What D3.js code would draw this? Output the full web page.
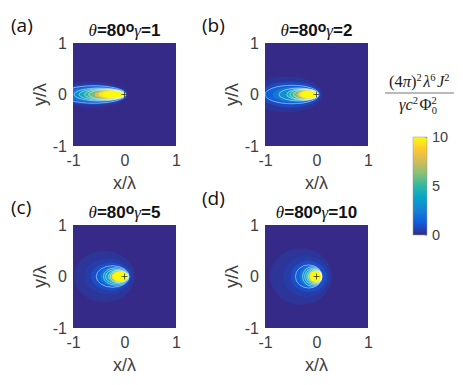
<!doctype html>
<html>
<head>
<meta charset="UTF-8">
<script src="https://d3js.org/d3.v7.min.js"></script>
<style>
  html, body { margin: 0; padding: 0; background: #fff; }
  svg { display: block; }
  .tick text, .axlabel { font-family: "Liberation Sans", sans-serif; fill: #404040; }
</style>
</head>
<body>
<svg width="463" height="385"></svg>
<script>
// contour levels per panel (data units x/lambda, y/lambda)
var levelsA = [0.3, 0.8, 1.5, 2.2, 3, 4, 5, 6, 8, 9.5, 10];
var xLeftA  = [-1.32, -1.28, -1.22, -1.12, -0.98, -0.88, -0.78, -0.7, -0.58, -0.5, -0.42];
var xRightA = [0.07, 0.05, 0.03, 0.025, 0.02, 0.015, 0.01, 0.0, 0.0, -0.01, -0.02];
var halfHA  = [0.25, 0.2, 0.17, 0.145, 0.125, 0.11, 0.1, 0.09, 0.085, 0.078, 0.07];

var levelsB = [0.3, 0.8, 1.5, 2.2, 3, 4, 5, 6, 8, 9.5, 10];
var xLeftB  = [-1.25, -1.1, -1.0, -0.85, -0.73, -0.58, -0.52, -0.45, -0.38, -0.34, -0.3];
var xRightB = [0.12, 0.08, 0.05, 0.045, 0.04, 0.035, 0.03, 0.025, 0.02, 0.015, 0.0];
var halfHB  = [0.34, 0.25, 0.18, 0.15, 0.125, 0.11, 0.1, 0.09, 0.085, 0.078, 0.07];

var levelsC = [0.25, 0.5, 0.9, 1.5, 2.2, 3, 4, 5, 6, 9.5, 10];
var xLeftC  = [-0.98, -0.78, -0.65, -0.55, -0.47, -0.41, -0.37, -0.31, -0.28, -0.25, -0.21];
var xRightC = [0.2, 0.15, 0.12, 0.09, 0.085, 0.08, 0.075, 0.07, 0.065, 0.06, 0.055];
var halfHC  = [0.5, 0.35, 0.27, 0.21, 0.19, 0.17, 0.14, 0.12, 0.11, 0.1, 0.09];

var levelsD = [0.25, 0.5, 0.9, 1.5, 2.2, 3, 4, 5, 6, 9.5, 10];
var xLeftD  = [-0.9, -0.65, -0.5, -0.41, -0.33, -0.27, -0.23, -0.19, -0.16, -0.14, -0.12];
var xRightD = [0.3, 0.25, 0.2, 0.11, 0.105, 0.1, 0.1, 0.1, 0.1, 0.1, 0.095];
var halfHD  = [0.55, 0.4, 0.3, 0.225, 0.205, 0.19, 0.16, 0.14, 0.125, 0.115, 0.105];

// which levels get a white contour line
var whiteLevels = [1.5, 3, 4, 5, 6];

var panelLetters = ["(a)", "(b)", "(c)", "(d)"];
var gammas = [1, 2, 5, 10];
var ticks = [-1, 0, 1];
var barTicks = [0, 5, 10];
var parula = ["#352a87", "#0f5cdd", "#1481d4", "#06a4ca", "#2eb7a4", "#87bf77", "#d1bb59", "#fec832", "#f9fb0e"];

var svg = d3.select("svg");
var size = 103;

var color = d3.scaleLinear()
  .domain(parula.map(function(d, i) { return i * 10 / (parula.length - 1); }))
  .range(parula);

var defs = svg.append("defs");
defs.append("filter").attr("id", "soft")
  .attr("x", "-20%").attr("y", "-20%").attr("width", "140%").attr("height", "140%")
  .append("feGaussianBlur").attr("stdDeviation", 0.6);
defs.append("filter").attr("id", "softline")
  .append("feGaussianBlur").attr("stdDeviation", 0.25);
defs.append("clipPath").attr("id", "panelclip")
  .append("rect").attr("width", size).attr("height", size);

var panels = [
  {left: 73, top: 43, lev: levelsA, xl: xLeftA, xr: xRightA, h: halfHA, lx: 11, ly: 32},
  {left: 265, top: 43, lev: levelsB, xl: xLeftB, xr: xRightB, h: halfHB, lx: 202, ly: 32},
  {left: 73, top: 225, lev: levelsC, xl: xLeftC, xr: xRightC, h: halfHC, lx: 11, ly: 214},
  {left: 265, top: 225, lev: levelsD, xl: xLeftD, xr: xRightD, h: halfHD, lx: 202, ly: 205}
];

var x = d3.scaleLinear().domain([-1, 1]).range([0, size]);
var y = d3.scaleLinear().domain([-1, 1]).range([size, 0]);
var tickFmt = function(d) { return String(d); };

panels.forEach(function(p, i) {
  var g = svg.append("g").attr("transform", "translate(" + p.left + "," + p.top + ")");

  g.append("rect").attr("width", size).attr("height", size).attr("fill", color(0));

  var rows = p.lev.map(function(v, j) {
    return {v: v, xl: p.xl[j], xr: p.xr[j], h: p.h[j]};
  });

  var clip = g.append("g").attr("clip-path", "url(#panelclip)");

  clip.append("g").attr("filter", "url(#soft)")
    .selectAll("ellipse").data(rows).enter().append("ellipse")
    .attr("cx", function(d) { return x((d.xl + d.xr) / 2); })
    .attr("cy", y(0))
    .attr("rx", function(d) { return x(d.xr) - x((d.xl + d.xr) / 2); })
    .attr("ry", function(d) { return y(0) - y(d.h); })
    .attr("fill", function(d) { return color(d.v); });

  clip.append("g").attr("filter", "url(#softline)")
    .selectAll("ellipse")
    .data(rows.filter(function(d) { return whiteLevels.indexOf(d.v) >= 0; }))
    .enter().append("ellipse")
    .attr("cx", function(d) { return x((d.xl + d.xr) / 2); })
    .attr("cy", y(0))
    .attr("rx", function(d) { return x(d.xr) - x((d.xl + d.xr) / 2); })
    .attr("ry", function(d) { return y(0) - y(d.h); })
    .attr("fill", "none")
    .attr("stroke", "#fff")
    .attr("stroke-opacity", 0.6)
    .attr("stroke-width", 0.8);

  // plus at the origin
  g.append("line").attr("x1", x(0) - 3).attr("x2", x(0) + 3).attr("y1", y(0)).attr("y2", y(0))
    .attr("stroke", "#222").attr("stroke-width", 0.7);
  g.append("line").attr("x1", x(0)).attr("x2", x(0)).attr("y1", y(0) - 3).attr("y2", y(0) + 3)
    .attr("stroke", "#222").attr("stroke-width", 0.7);

  var xAxis = g.append("g").attr("transform", "translate(0," + size + ")")
    .call(d3.axisBottom(x).tickValues(ticks).tickSize(0).tickPadding(9).tickFormat(tickFmt));
  var yAxis = g.append("g")
    .call(d3.axisLeft(y).tickValues(ticks).tickSize(0).tickPadding(6).tickFormat(tickFmt));
  xAxis.select(".domain").remove();
  yAxis.select(".domain").remove();
  g.selectAll(".tick text").style("font-size", "16px");

  g.append("text").attr("class", "axlabel")
    .attr("x", size / 2).attr("y", size + 43)
    .attr("text-anchor", "middle").style("font-size", "18px")
    .text("x/λ");
  g.append("text").attr("class", "axlabel")
    .attr("transform", "translate(-27," + (size / 2) + ") rotate(-90)")
    .attr("text-anchor", "middle").style("font-size", "18px")
    .text("y/λ");

  var t = g.append("text").attr("x", size / 2).attr("y", -7)
    .attr("text-anchor", "middle")
    .style("font-family", "Liberation Sans").style("font-weight", "bold")
    .style("font-size", "17px").attr("fill", "#111");
  t.append("tspan").style("font-family", "Liberation Serif").style("font-style", "italic").style("font-weight", "normal").text("θ");
  t.append("tspan").text("=80");
  t.append("tspan").attr("dy", -4).style("font-size", "14px").text("o");
  t.append("tspan").attr("dy", 4).style("font-family", "Liberation Serif").style("font-style", "italic").style("font-weight", "normal").text("γ");
  t.append("tspan").text("=" + gammas[i]);

  svg.append("text").attr("x", p.lx).attr("y", p.ly)
    .style("font-family", "Open Sans").style("font-size", "19px").attr("fill", "#111")
    .text(panelLetters[i]);
});

// colorbar
var grad = defs.append("linearGradient").attr("id", "parula")
  .attr("x1", 0).attr("y1", 1).attr("x2", 0).attr("y2", 0);
grad.selectAll("stop").data(parula).enter().append("stop")
  .attr("offset", function(d, i) { return i / (parula.length - 1); })
  .attr("stop-color", function(d) { return d; });

var barY = d3.scaleLinear().domain([0, 10]).range([235, 137]);
svg.append("rect").attr("x", 413).attr("y", barY(10)).attr("width", 14)
  .attr("height", barY(0) - barY(10)).attr("fill", "url(#parula)")
  .attr("stroke", "#999").attr("stroke-width", 0.5);
var barAxis = svg.append("g").attr("transform", "translate(427,0)")
  .call(d3.axisRight(barY).tickValues(barTicks).tickSize(-2).tickPadding(5));
barAxis.select(".domain").remove();
barAxis.selectAll(".tick line").attr("stroke", "#777").attr("stroke-width", 0.5);
barAxis.selectAll(".tick text").style("font-size", "14.5px");

// formula
var num = svg.append("text").attr("x", 420).attr("y", 87).attr("text-anchor", "middle")
  .style("font-family", "Liberation Serif").style("font-size", "16.5px").attr("fill", "#222");
function sup(node, s) {
  node.append("tspan").attr("dy", -6).style("font-size", "10.5px").text(s);
  node.append("tspan").attr("dy", 6).text("\u200a");
}
num.append("tspan").text("(4");
num.append("tspan").style("font-style", "italic").text("π");
num.append("tspan").text(")");
sup(num, "2");
num.append("tspan").style("font-style", "italic").text("λ");
sup(num, "6");
num.append("tspan").style("font-style", "italic").text("J");
sup(num, "2");
svg.append("line").attr("x1", 385).attr("x2", 454).attr("y1", 93).attr("y2", 93)
  .attr("stroke", "#777").attr("stroke-width", 1);
var den = svg.append("text").attr("x", 418).attr("y", 110).attr("text-anchor", "middle")
  .style("font-family", "Liberation Serif").style("font-size", "16.5px").attr("fill", "#222");
den.append("tspan").style("font-style", "italic").text("γc");
sup(den, "2");
den.append("tspan").text("Φ");
den.append("tspan").attr("dy", -6).style("font-size", "10.5px").text("2");
den.append("tspan").attr("dy", 10).attr("dx", -5).style("font-size", "10.5px").text("0");
</script>
</body>
</html>
